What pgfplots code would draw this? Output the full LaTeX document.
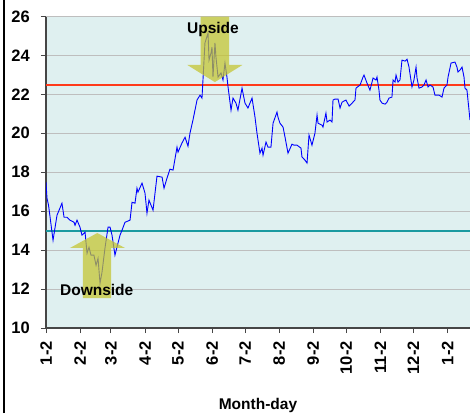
\documentclass[border=0pt]{standalone}
\usepackage{pgfplots}
\pgfplotsset{compat=1.18}
\usepackage{fontspec}
\setmainfont{Liberation Sans}
\definecolor{bgc}{RGB}{223,240,240}
\definecolor{redl}{RGB}{255,58,26}
\definecolor{tealc}{RGB}{26,154,160}
\definecolor{arrowc}{RGB}{196,196,45}
\definecolor{gridc}{RGB}{190,190,190}
\definecolor{axc}{RGB}{70,70,70}
\begin{document}
\begin{tikzpicture}[x=1pt,y=1pt]
\path[use as bounding box] (-46,-85) rectangle (424,328);
\clip (-46,-85) rectangle (424,328);
\draw[black, line width=2pt] (-42.3,-85) -- (-42.3,328);
\begin{axis}[
  scale only axis, width=424pt, height=311.5pt,
  xmin=0, xmax=385.45, ymin=10, ymax=26,
  axis x line*=bottom, axis y line*=left,
  axis line style={axc, line width=1.2pt, -},
  ytick={10,12,...,26},
  xtick={0,31,59,90,120,151,181,212,243,273,304,334,365},
  xticklabels={1-2,2-2,3-2,4-2,5-2,6-2,7-2,8-2,9-2,10-2,11-2,12-2,1-2},
  ymajorgrids, major grid style={gridc, line width=0.9pt},
  axis background/.style={fill=bgc},
  tick style={axc, line width=1pt},
  tick align=outside, major tick length=5pt,
  /pgf/number format/assume math mode=true,
  ticklabel style={font=\fontsize{16.5}{16.5}\selectfont\bfseries},
  yticklabel style={inner sep=0pt, anchor=east, xshift=-11pt},
  xticklabel style={yshift=-8pt, rotate=90, anchor=east, inner sep=0pt},
  xlabel={Month-day},
  xlabel style={font=\fontsize{15.5}{15.5}\selectfont\bfseries, at={(axis description cs:0.5,0)}, anchor=base, yshift=-81pt},
]
\addplot[redl, line width=2pt] coordinates {(0,22.5) (385.45,22.5)};
\addplot[tealc, line width=2pt] coordinates {(0,15) (385.45,15)};
\addplot[blue, line width=0.9pt] coordinates {
(0,17.49)(0.9,16.67)(2.3,16.31)(6.4,14.51)(10,15.79)(14.5,16.41)(16.4,15.69)(19.1,15.69)(21.8,15.54)(25.5,15.43)(26.4,15.28)(28.2,15.54)(30.9,15.18)(32.7,14.77)(35.5,14.92)(37.3,13.84)(39.1,14.15)(40.9,13.74)(43.6,13.74)(45.5,13.22)(47.3,13.58)(49.1,12.30)(50.9,12.86)(53.6,14.10)(56.4,15.18)(58.2,15.18)(60,14.77)(62.7,13.74)(64.5,14.15)(67.3,14.77)(69.1,15.02)(71.8,15.43)(76.4,15.54)(78.2,16.46)(80.9,16.41)(82.7,17.18)(83.6,16.98)(87.3,17.44)(90,16.93)(91.8,15.90)(93.6,16.57)(97.3,16.05)(100.9,17.80)(105.5,17.75)(107.3,17.18)(110,17.70)(112.7,18.16)(115.5,18.11)(119.1,19.29)(120,19.03)(123.6,19.50)(126.4,19.80)(129.1,19.34)(130.9,20.01)(133.6,20.68)(137.3,21.71)(140,21.96)(141.8,21.81)(142.7,22.74)(144.5,24.64)(147.3,25.15)(148.2,23.76)(150,24.12)(150.9,24.43)(151.8,22.89)(153.6,24.64)(154.5,23.92)(156.4,22.89)(159.1,23.10)(160.9,22.74)(162.7,23.61)(164.5,22.89)(165.5,22.38)(168.2,21.19)(170,21.81)(172.7,21.55)(174.5,21.19)(178.2,22.32)(180.9,21.55)(183.6,21.30)(187.3,21.81)(190,20.83)(191.8,20.01)(194.5,18.98)(196.4,19.24)(197.3,18.88)(200,19.55)(201.8,19.29)(204.5,19.29)(206.4,20.52)(210,21.09)(210.9,20.83)(212.7,20.52)(215.5,20.32)(217.3,19.80)(220,18.98)(223.6,19.44)(225.5,19.39)(228.2,19.39)(231.8,19.24)(232.7,18.78)(235.5,18.62)(237.3,18.47)(239.1,19.91)(241.8,19.39)(244.5,20.01)(246.4,20.94)(247.3,20.52)(250.9,20.42)(251.8,20.32)(254.5,21.04)(255.5,20.58)(258.2,20.68)(260,20.58)(260.9,21.71)(262.7,21.76)(265.5,21.76)(267.3,21.30)(269.1,21.60)(272.7,21.71)(275.5,21.40)(278.2,21.55)(280.9,21.71)(281.8,22.32)(285.5,22.48)(288.2,22.89)(289.1,22.99)(291.8,22.58)(294.5,22.22)(296.4,22.63)(297.3,22.84)(300,22.74)(300.9,22.89)(302.7,22.22)(303.6,21.71)(305.5,21.55)(308.2,21.50)(310,21.60)(311.8,21.81)(314.5,21.86)(315.5,22.74)(317.3,22.63)(318.2,22.99)(320,22.63)(321.8,22.74)(323.6,23.76)(326.4,23.71)(328.2,23.81)(330,23.40)(332.7,22.38)(334.5,22.74)(336.4,23.40)(337.3,22.84)(339.1,22.32)(341.8,22.38)(343.6,22.48)(345.5,22.74)(347.3,22.38)(349.1,22.48)(351.8,22.38)(353.6,21.96)(357.3,21.96)(360,21.86)(361.8,22.32)(364.5,22.48)(365.5,22.89)(368.2,23.61)(371.8,23.66)(373.6,23.40)(374.5,23.15)(376.4,23.25)(378.2,23.40)(380,22.89)(380.9,22.32)(382.7,22.22)(383.6,21.71)(385.45,20.68)
};
% annotation arrows (semi-transparent)
\fill[arrowc, fill opacity=0.72] (axis cs:140.5,26) -- (axis cs:166.5,26) -- (axis cs:166.5,23.51) -- (axis cs:178.5,23.51) -- (axis cs:153.5,22.63) -- (axis cs:128.5,23.51) -- (axis cs:140.5,23.51) -- cycle;
\fill[arrowc, fill opacity=0.72] (axis cs:33.6,11.53) -- (axis cs:59.1,11.53) -- (axis cs:59.1,14.11) -- (axis cs:71.8,14.11) -- (axis cs:46.6,14.88) -- (axis cs:21.8,14.11) -- (axis cs:33.6,14.11) -- cycle;
\node[anchor=base, font=\fontsize{15.5}{15.5}\selectfont\bfseries] at (axis cs:151.8,25.13) {Upside};
\node[anchor=base, font=\fontsize{15.5}{15.5}\selectfont\bfseries] at (axis cs:46.1,11.68) {Downside};
\end{axis}
\end{tikzpicture}
\end{document}
